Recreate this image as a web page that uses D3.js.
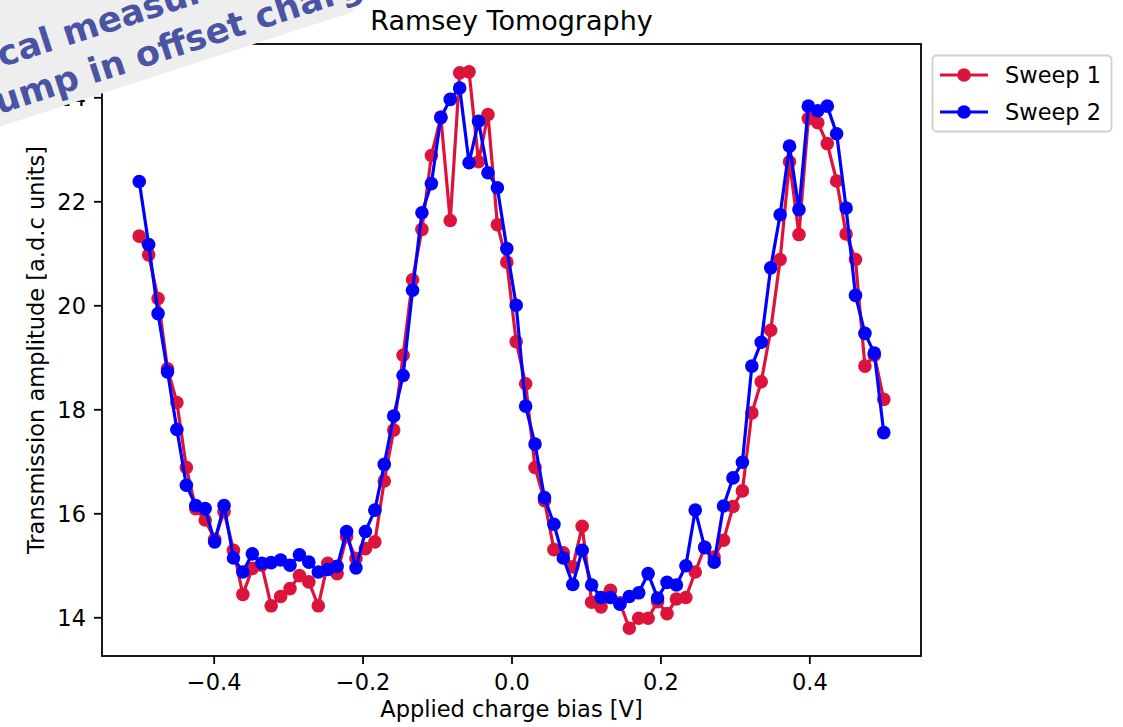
<!DOCTYPE html>
<html>
<head>
<meta charset="utf-8">
<script src="https://cdn.jsdelivr.net/npm/d3@7"></script>
<style>
  html, body { margin: 0; padding: 0; background: #ffffff; }
  svg { display: block; }
  text { font-family: "DejaVu Sans", sans-serif; fill: #000; }
</style>
</head>
<body>
<svg id="chart" width="1123" height="727"></svg>
<script>
// Applied charge bias for each point of the sweep [V]
const biasValues = [
  -0.5000, -0.4873, -0.4747, -0.4620, -0.4494, -0.4367, -0.4241, -0.4114, -0.3987, -0.3861,
  -0.3734, -0.3608, -0.3481, -0.3354, -0.3228, -0.3101, -0.2975, -0.2848, -0.2722, -0.2595,
  -0.2468, -0.2342, -0.2215, -0.2089, -0.1962, -0.1835, -0.1709, -0.1582, -0.1456, -0.1329,
  -0.1203, -0.1076, -0.0949, -0.0823, -0.0696, -0.0570, -0.0443, -0.0316, -0.0190, -0.0063,
   0.0063,  0.0190,  0.0316,  0.0443,  0.0570,  0.0696,  0.0823,  0.0949,  0.1076,  0.1203,
   0.1329,  0.1456,  0.1582,  0.1709,  0.1835,  0.1962,  0.2089,  0.2215,  0.2342,  0.2468,
   0.2595,  0.2722,  0.2848,  0.2975,  0.3101,  0.3228,  0.3354,  0.3481,  0.3608,  0.3734,
   0.3861,  0.3987,  0.4114,  0.4241,  0.4367,  0.4494,  0.4620,  0.4747,  0.4873,  0.5000
];

// Transmission amplitude, first sweep [a.d.c units]
const sweep1 = [
  21.33, 20.97, 20.13, 18.78, 18.13, 16.88, 16.09, 15.87, 15.50, 16.03,
  15.29, 14.44, 14.94, 15.00, 14.22, 14.40, 14.55, 14.80, 14.68, 14.22,
  15.04, 14.84, 15.55, 15.13, 15.32, 15.45, 16.62, 17.60, 19.04, 20.49,
  21.46, 22.88, 23.62, 21.63, 24.47, 24.49, 22.76, 23.67, 21.55, 20.83,
  19.30, 18.49, 16.88, 16.24, 15.30, 15.24, 14.97, 15.75, 14.29, 14.20,
  14.52, 14.28, 13.79, 13.98, 13.98, 14.30, 14.07, 14.35, 14.38, 14.87,
  15.35, 15.16, 15.48, 16.13, 16.43, 17.93, 18.53, 19.52, 20.88, 22.76,
  21.36, 23.59, 23.51, 23.11, 22.39, 21.37, 20.88, 18.83, 19.04, 18.19
];

// Transmission amplitude, second sweep [a.d.c units]
const sweep2 = [
  22.38, 21.17, 19.84, 18.72, 17.61, 16.54, 16.15, 16.09, 15.45, 16.15,
  15.14, 14.87, 15.22, 15.04, 15.05, 15.10, 15.00, 15.20, 15.06, 14.87,
  14.92, 14.98, 15.65, 14.95, 15.65, 16.06, 16.94, 17.87, 18.65, 20.29,
  21.78, 22.34, 23.61, 23.96, 24.18, 22.74, 23.54, 22.55, 22.26, 21.09,
  20.00, 18.06, 17.33, 16.30, 15.79, 15.14, 14.63, 15.29, 14.62, 14.38,
  14.38, 14.25, 14.40, 14.47, 14.84, 14.37, 14.67, 14.62, 14.99, 16.06,
  15.34, 15.06, 16.14, 16.68, 16.98, 18.83, 19.29, 20.72, 21.74, 23.06,
  21.84, 23.83, 23.74, 23.83, 23.30, 21.87, 20.19, 19.46, 19.08, 17.55
];

const seriesNames = ["Sweep 1", "Sweep 2"];
const seriesColors = ["#dc143c", "#0000ff"];
const xTicks = [-0.4, -0.2, 0.0, 0.2, 0.4];
const yTicks = [14, 16, 18, 20, 22, 24];

const titleText = "Ramsey Tomography";
const xLabel = "Applied charge bias [V]";
const yLabel = "Transmission amplitude [a.d.c units]";
const bannerLines = ["Typical measurement", "Jump in offset charge"];

const svg = d3.select("#chart");
svg.append("rect").attr("width", 1123).attr("height", 727).attr("fill", "#fff");

const plot = { left: 102, right: 921, top: 44, bottom: 656 };

// Autoscale with 5% margins on each side
function padded(ext) {
  const m = (ext[1] - ext[0]) * 0.05;
  return [ext[0] - m, ext[1] + m];
}
const allY = sweep1.concat(sweep2);
const x = d3.scaleLinear().domain(padded(d3.extent(biasValues))).range([plot.left, plot.right]);
const y = d3.scaleLinear().domain(padded(d3.extent(allY))).range([plot.bottom, plot.top]);

const FS = 22.5;

// Axes
const xAxis = d3.axisBottom(x).tickValues(xTicks).tickFormat(d3.format(".1f"))
  .tickSize(8).tickPadding(8).tickSizeOuter(0);
const yAxis = d3.axisLeft(y).tickValues(yTicks).tickFormat(d3.format("d"))
  .tickSize(8).tickPadding(8).tickSizeOuter(0);

const gx = svg.append("g").attr("transform", `translate(0,${plot.bottom})`).call(xAxis);
const gy = svg.append("g").attr("transform", `translate(${plot.left},0)`).call(yAxis);
[gx, gy].forEach(g => {
  g.select(".domain").remove();
  g.selectAll(".tick line").attr("stroke", "#000").attr("stroke-width", 1.8);
  g.selectAll(".tick text").attr("font-size", FS).attr("font-family", "DejaVu Sans").attr("fill", "#000");
});
gx.selectAll(".tick text").attr("dy", "0.8em");
gy.selectAll(".tick text").attr("dy", "0.36em");

// Series: line first, then markers, second sweep drawn on top
const line = d3.line().x((d, i) => x(biasValues[i])).y(d => y(d));
[sweep1, sweep2].forEach((vals, k) => {
  const g = svg.append("g");
  g.append("path").datum(vals).attr("d", line)
    .attr("fill", "none").attr("stroke", seriesColors[k]).attr("stroke-width", 3.2)
    .attr("stroke-linejoin", "round").attr("stroke-linecap", "square");
  g.selectAll("circle").data(vals).join("circle")
    .attr("cx", (d, i) => x(biasValues[i])).attr("cy", d => y(d))
    .attr("r", 6.8).attr("fill", seriesColors[k]);
});

// Frame
svg.append("rect")
  .attr("x", plot.left).attr("y", plot.top)
  .attr("width", plot.right - plot.left).attr("height", plot.bottom - plot.top)
  .attr("fill", "none").attr("stroke", "#000").attr("stroke-width", 1.8);

// Title and axis labels
svg.append("text").attr("x", (plot.left + plot.right) / 2).attr("y", 30)
  .attr("text-anchor", "middle").attr("font-size", 27).text(titleText);
svg.append("text").attr("x", (plot.left + plot.right) / 2).attr("y", 717)
  .attr("text-anchor", "middle").attr("font-size", FS).text(xLabel);
svg.append("text").attr("transform", `translate(44,${(plot.top + plot.bottom) / 2}) rotate(-90)`)
  .attr("text-anchor", "middle").attr("font-size", FS).text(yLabel);

// Legend
const leg = svg.append("g");
leg.append("rect").attr("x", 932.5).attr("y", 55.5).attr("width", 179).attr("height", 76)
  .attr("rx", 4).attr("fill", "#fff").attr("fill-opacity", 0.8)
  .attr("stroke", "#d0d0d0").attr("stroke-width", 1.8);
seriesNames.forEach((name, k) => {
  const yy = 75 + k * 37;
  leg.append("line").attr("x1", 940).attr("x2", 988).attr("y1", yy).attr("y2", yy)
    .attr("stroke", seriesColors[k]).attr("stroke-width", 3.2);
  leg.append("circle").attr("cx", 964).attr("cy", yy).attr("r", 6.8).attr("fill", seriesColors[k]);
  leg.append("text").attr("x", 1005).attr("y", yy + 8).attr("font-size", FS).text(name);
});

// Slanted caption banner over the top-left corner
const banner = svg.append("g").attr("transform", "translate(0,114) rotate(-18)");
banner.append("rect").attr("x", -300).attr("y", -130).attr("width", 668).attr("height", 142)
  .attr("fill", "#eeeeee");
const bannerFont = { family: "Lato, 'Open Sans', sans-serif", size: 35, weight: 700 };
function measure(str) {
  const t = banner.append("text").attr("font-family", bannerFont.family)
    .attr("font-size", bannerFont.size).attr("font-weight", bannerFont.weight).text(str);
  const w = t.node().getComputedTextLength();
  t.remove();
  return w;
}
const lineStarts = [
  { y: -44, lead: "Typi", at: 16 },
  { y: 0, lead: "J", at: -1 }
];
bannerLines.forEach((txt, k) => {
  const s = lineStarts[k];
  banner.append("text")
    .attr("x", s.at - measure(s.lead)).attr("y", s.y)
    .attr("font-family", bannerFont.family).attr("font-size", bannerFont.size)
    .attr("font-weight", bannerFont.weight)
    .style("fill", "#4a54a4").text(txt);
});
</script>
</body>
</html>
